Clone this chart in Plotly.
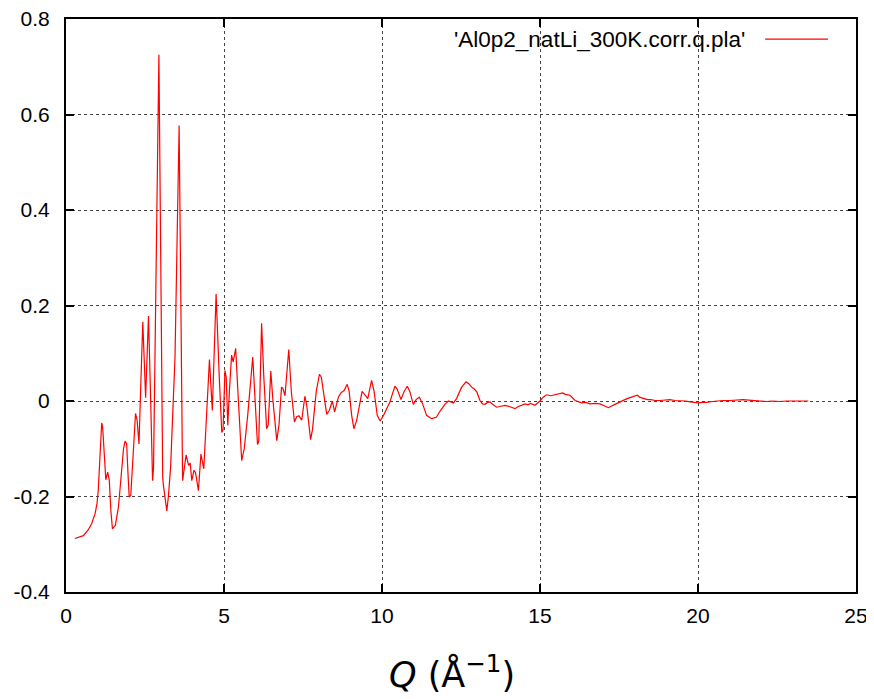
import plotly.graph_objects as go

q_vals = [0.28, 0.40, 0.55, 0.70, 0.81, 0.92, 0.98, 1.02, 1.07, 1.10, 1.13, 1.16, 1.21, 1.26, 1.32, 1.37,
          1.42, 1.47, 1.52, 1.56, 1.66, 1.76, 1.82, 1.87, 1.92, 1.96, 2.00, 2.05, 2.13, 2.20, 2.25, 2.31,
          2.36, 2.43, 2.52, 2.61, 2.68, 2.74, 2.77, 2.94, 3.06, 3.08, 3.19, 3.24, 3.31, 3.45, 3.58, 3.69,
          3.80, 3.88, 3.93, 3.98, 4.05, 4.10, 4.19, 4.27, 4.36, 4.45, 4.54, 4.63, 4.75, 4.85, 4.93, 4.97,
          5.03, 5.07, 5.12, 5.17, 5.24, 5.29, 5.37, 5.44, 5.56, 5.64, 5.75, 5.91, 5.98, 6.06, 6.10, 6.19,
          6.26, 6.35, 6.40, 6.48, 6.55, 6.67, 6.74, 6.82, 6.86, 6.93, 7.05, 7.13, 7.23, 7.30, 7.37, 7.46,
          7.56, 7.62, 7.74, 7.80, 7.92, 8.02, 8.08, 8.15, 8.25, 8.33, 8.43, 8.50, 8.62, 8.70, 8.80, 8.90,
          8.96, 9.04, 9.11, 9.20, 9.30, 9.37, 9.45, 9.55, 9.67, 9.75, 9.85, 9.94, 10.05, 10.15, 10.25, 10.33,
          10.41, 10.48, 10.60, 10.70, 10.80, 10.88, 10.99, 11.08, 11.18, 11.28, 11.41, 11.57, 11.72, 11.85,
          11.99, 12.10, 12.26, 12.36, 12.52, 12.66, 12.75, 12.84, 12.92, 13.00, 13.10, 13.18, 13.26, 13.34,
          13.42, 13.52, 13.63, 13.76, 13.89, 14.05, 14.12, 14.21, 14.30, 14.38, 14.53, 14.62, 14.70, 14.84,
          15.00, 15.10, 15.21, 15.34, 15.47, 15.60, 15.66, 15.72, 15.80, 15.95, 16.11, 16.32, 16.45, 16.58,
          16.75, 16.90, 17.03, 17.16, 17.37, 17.59, 17.72, 17.85, 17.96, 18.08, 18.15, 18.27, 18.40, 18.50,
          18.65, 18.80, 18.95, 19.11, 19.27, 19.43, 19.60, 19.75, 19.88, 20.01, 20.15, 20.28, 20.45, 20.59,
          20.80, 21.01, 21.20, 21.43, 21.60, 21.75, 21.95, 22.17, 22.35, 22.59, 22.80, 23.02, 23.25, 23.49]

s_vals = [-0.288, -0.286, -0.282, -0.270, -0.257, -0.236, -0.215, -0.188, -0.120, -0.060, -0.046, -0.055,
          -0.120, -0.165, -0.149, -0.166, -0.230, -0.268, -0.263, -0.261, -0.222, -0.139, -0.100, -0.084,
          -0.090, -0.150, -0.201, -0.198, -0.111, -0.026, -0.040, -0.090, 0.020, 0.166, 0.007, 0.178,
          0.000, -0.167, -0.140, 0.725, -0.160, -0.175, -0.230, -0.200, -0.139, 0.092, 0.577, -0.167,
          -0.113, -0.135, -0.130, -0.167, -0.145, -0.150, -0.188, -0.111, -0.142, -0.020, 0.087, -0.020,
          0.224, 0.050, -0.066, -0.060, 0.064, 0.050, -0.051, 0.020, 0.096, 0.082, 0.110, 0.020,
          -0.125, -0.100, -0.030, 0.092, 0.000, -0.091, -0.085, 0.163, 0.050, -0.058, -0.050, 0.063,
          0.000, -0.083, -0.050, 0.029, 0.027, 0.011, 0.108, 0.020, -0.044, -0.033, -0.031, -0.040,
          0.010, -0.010, -0.081, -0.060, 0.020, 0.056, 0.050, 0.020, -0.028, -0.020, 0.000, -0.023,
          0.008, 0.017, 0.022, 0.035, 0.020, -0.030, -0.058, -0.040, 0.001, 0.020, 0.014, 0.005,
          0.043, 0.020, -0.030, -0.042, -0.030, -0.015, -0.002, 0.015, 0.031, 0.025, 0.003, 0.020,
          0.031, 0.020, -0.007, 0.003, 0.008, -0.005, -0.030, -0.037, -0.034, -0.020, -0.007, 0.000,
          -0.004, 0.005, 0.029, 0.040, 0.036, 0.029, 0.025, 0.019, 0.001, -0.006, -0.007, -0.003,
          -0.002, -0.008, -0.013, -0.011, -0.009, -0.012, -0.014, -0.016, -0.012, -0.010, -0.006, -0.008,
          -0.005, -0.009, 0.000, 0.008, 0.013, 0.011, 0.013, 0.014, 0.016, 0.017, 0.014, 0.012,
          0.001, -0.004, -0.003, -0.006, -0.005, -0.006, -0.010, -0.014, -0.007, 0.001, 0.004, 0.007,
          0.010, 0.012, 0.008, 0.005, 0.003, 0.003, 0.001, 0.001, 0.002, 0.003, 0.001, 0.001,
          0.000, -0.002, -0.003, -0.004, -0.003, -0.003, -0.001, 0.000, 0.001, 0.001, 0.002, 0.003,
          0.002, 0.001, 0.000, -0.001, 0.000, -0.001, 0.000, 0.000, 0.000, 0.000]

x_ticks = [0, 5, 10, 15, 20, 25]
y_ticks = [-0.4, -0.2, 0, 0.2, 0.4, 0.6, 0.8]
y_tick_text = ["-0.4", "-0.2", "0", "0.2", "0.4", "0.6", "0.8"]
series_name = "'Al0p2_natLi_300K.corr.q.pla'"
x_title = "<i>Q</i> (Å<sup>−1</sup>)"

fig = go.Figure()
fig.add_trace(go.Scatter(x=q_vals, y=s_vals, mode="lines", name=series_name,
                         line=dict(color="#ff0000", width=1.2), showlegend=False))

axis_common = dict(showline=True, linewidth=2, linecolor="black", mirror="allticks",
                   ticks="inside", ticklen=8, tickwidth=2, tickcolor="black", automargin=False,
                   ticklabeloverflow="allow",
                   showgrid=True, gridcolor="#444444", griddash="dot", gridwidth=1,
                   zeroline=False, tickfont=dict(family="Liberation Sans, Arial", size=21, color="black"))

fig.update_xaxes(range=[0, 25], tickvals=x_ticks, ticktext=[str(v) for v in x_ticks],
                 ticklabelstandoff=4, **axis_common)
fig.update_yaxes(range=[-0.4, 0.8], tickvals=y_ticks, ticktext=y_tick_text,
                 ticklabelstandoff=10, **axis_common)

# x-axis title (gnuplot places it slightly left of centre)
fig.add_annotation(x=0.4886, y=-0.1396, xref="paper", yref="paper", text=x_title,
                   showarrow=False, xanchor="center", yanchor="middle",
                   font=dict(family="DejaVu Sans", size=35, color="black"))

# gnuplot-style key: text then sample line to its right
fig.add_annotation(x=0.862, y=0.965, xref="paper", yref="paper", text=series_name,
                   showarrow=False, xanchor="right", yanchor="middle",
                   font=dict(family="Liberation Sans, Arial", size=22.5, color="black"))
fig.add_shape(type="line", xref="paper", yref="paper", x0=0.885, x1=0.9646, y0=0.965, y1=0.965,
              line=dict(color="#ff0000", width=1.2))

fig.update_layout(width=866, height=691, margin=dict(l=58, r=18, t=11, b=107),
                  plot_bgcolor="white", paper_bgcolor="white")
fig.write_html("out.html")
